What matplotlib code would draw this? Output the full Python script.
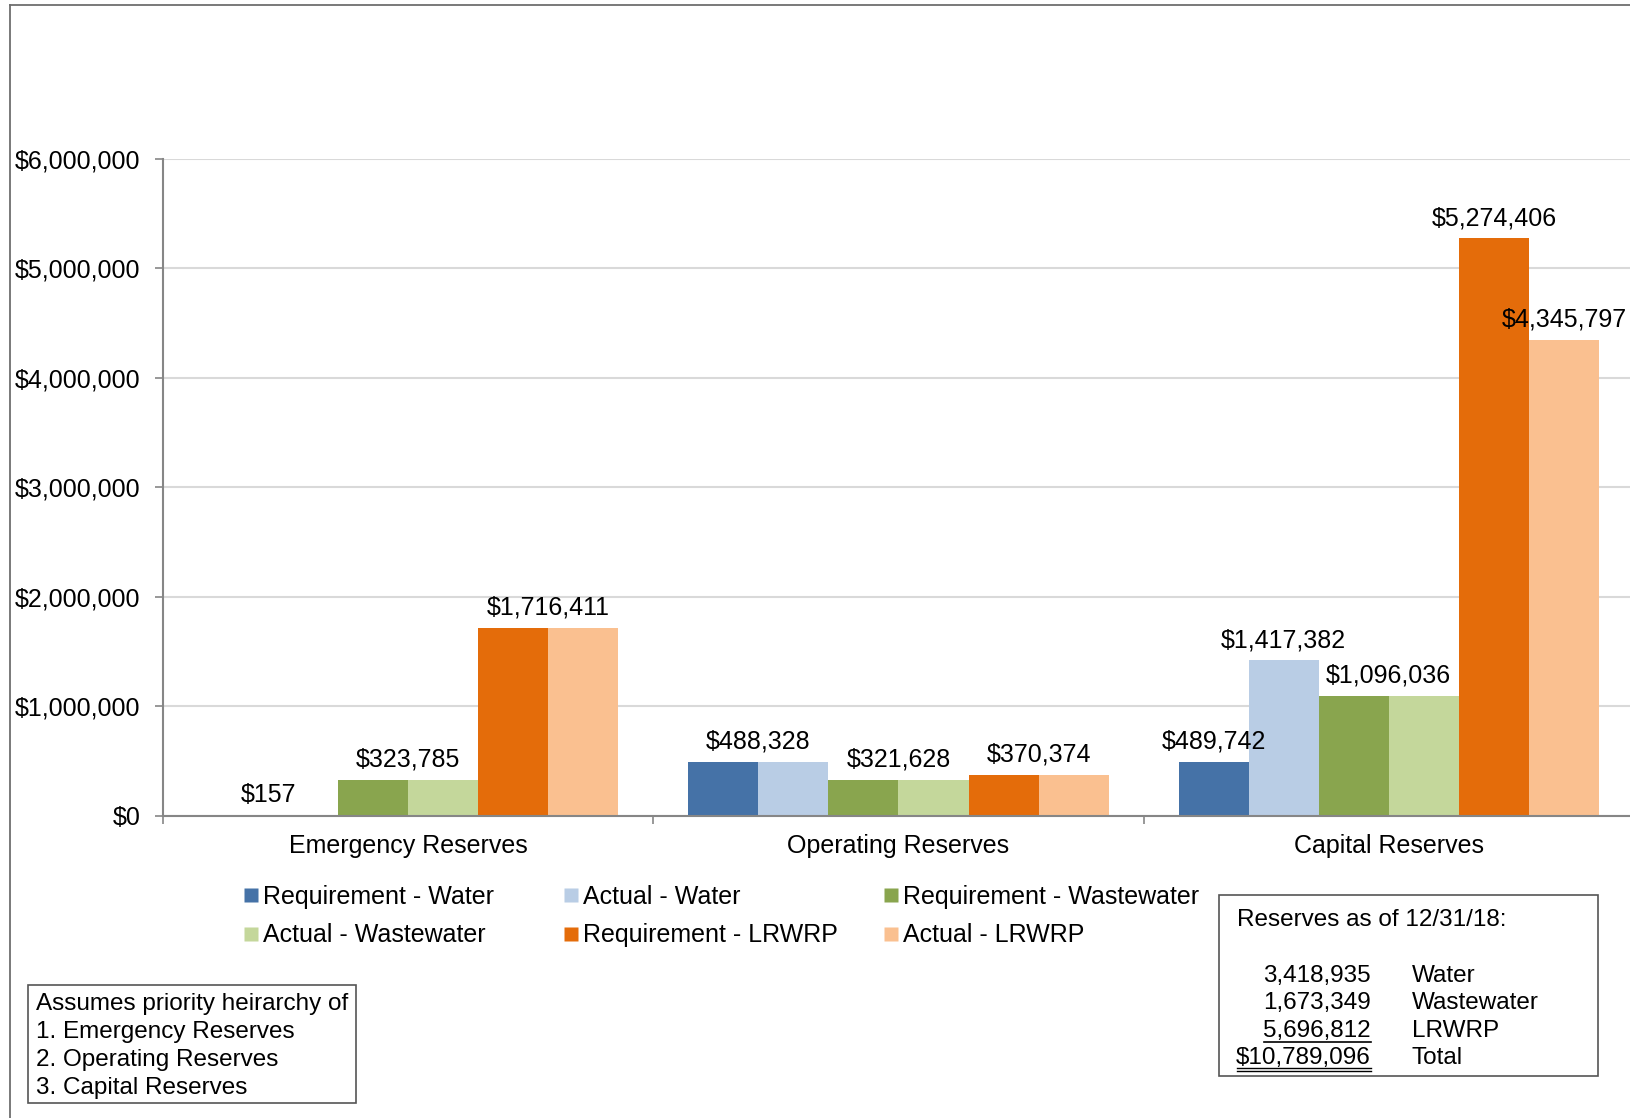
import matplotlib
matplotlib.use("Agg")
import matplotlib.pyplot as plt
from matplotlib.lines import Line2D
from matplotlib.patches import Rectangle

plt.rcParams['font.family'] = ['Liberation Sans', 'DejaVu Sans']

categories = ["Emergency Reserves", "Operating Reserves", "Capital Reserves"]
series_names = ["Requirement - Water", "Actual - Water", "Requirement - Wastewater",
                "Actual - Wastewater", "Requirement - LRWRP", "Actual - LRWRP"]
req_water = [157, 488328, 489742]
act_water = [157, 488328, 1417382]
req_ww = [323785, 321628, 1096036]
act_ww = [323785, 321628, 1096036]
req_lrwrp = [1716411, 370374, 5274406]
act_lrwrp = [1716411, 370374, 4345797]
colors = ["#4572A7", "#B9CDE5", "#89A54E", "#C4D79B", "#E46C0A", "#FAC090"]
yticks = [0, 1000000, 2000000, 3000000, 4000000, 5000000, 6000000]

summary_values = ["3,418,935", "1,673,349", "5,696,812", "$10,789,096"]
summary_labels = ["Water", "Wastewater", "LRWRP", "Total"]
note_lines = ["Assumes priority heirarchy of", "1. Emergency Reserves",
              "2. Operating Reserves", "3. Capital Reserves"]

W, H = 1631, 1118
fig = plt.figure(figsize=(W / 100, H / 100), dpi=100)
fig.patch.set_facecolor("white")

def fx(x):
    return x / W

def fy(y):
    return 1 - y / H

ax = fig.add_axes([fx(163), fy(815.5), fx(1634) - fx(163), fy(159) - fy(815.5)])
series = [req_water, act_water, req_ww, act_ww, req_lrwrp, act_lrwrp]
bw = 1 / 7
for j, (vals, c) in enumerate(zip(series, colors)):
    xs = [i + (j - 2.5) * bw for i in range(len(categories))]
    ax.bar(xs, vals, width=bw, color=c, edgecolor="none", zorder=3)

# data labels
for i in range(len(categories)):
    for p in range(3):
        r, a = series[2 * p][i], series[2 * p + 1][i]
        if r == a:
            pos = [(i + (2 * p + 0.5 - 2.5) * bw, r)]
        else:
            pos = [(i + (2 * p - 2.5) * bw, r), (i + (2 * p + 1 - 2.5) * bw, a)]
        for x, v in pos:
            ax.annotate(f"${v:,.0f}", (x, v), xytext=(0, 6), textcoords="offset points",
                        ha="center", va="bottom", fontsize=18, zorder=5)

ax.set_xlim(-0.5, 2.5)
ax.set_ylim(0, 6000000)
ax.set_yticks(yticks)
ax.set_yticklabels([f"${v:,.0f}" for v in yticks], fontsize=18)
ax.set_xticks(range(len(categories)))
ax.set_xticklabels(categories, fontsize=18)
ax.set_xticks([-0.5, 0.5, 1.5, 2.5], minor=True)
ax.tick_params(axis="x", which="major", length=0, pad=13)
ax.tick_params(axis="x", which="minor", length=6, width=1.2, color="#868686", direction="out")
ax.tick_params(axis="y", length=6, width=1.2, color="#868686", direction="out", pad=10)
ax.yaxis.grid(True, color="#D9D9D9", linewidth=1.5, zorder=0)
ax.set_axisbelow(True)
for s in ["top", "right"]:
    ax.spines[s].set_visible(False)
for s in ["left", "bottom"]:
    ax.spines[s].set_color("#868686")
    ax.spines[s].set_linewidth(1.5)
ax.spines["bottom"].set_zorder(4)

# outer chart border (left and top visible)
fig.add_artist(Line2D([fx(10), fx(10)], [fy(5), fy(1130)], color="#6E6E6E", lw=1.3))
fig.add_artist(Line2D([fx(10), fx(1640)], [fy(5), fy(5)], color="#6E6E6E", lw=1.3))

# legend as three columns
order_cols = [[0, 3], [1, 4], [2, 5]]
col_x = [244, 564, 884]
for cx, idxs in zip(col_x, order_cols):
    handles = [Line2D([], [], marker="s", linestyle="none", markersize=9.5,
                      markerfacecolor=colors[k], markeredgecolor="none") for k in idxs]
    fig.legend(handles, [series_names[k] for k in idxs], loc="upper left",
               bbox_to_anchor=(fx(cx), fy(885)), frameon=False, fontsize=18,
               handlelength=0.6, handletextpad=0.15, labelspacing=0.57, borderpad=0,
               borderaxespad=0)

# note box (bottom-left)
fig.add_artist(Rectangle((fx(28), fy(1103)), fx(356) - fx(28), fy(985) - fy(1103),
                         transform=fig.transFigure, fill=False, edgecolor="#555555", lw=1.2))
for k, line in enumerate(note_lines):
    fig.text(fx(36), fy(1004 + 28 * k), line, fontsize=17.5, ha="left", va="center")

# summary box (bottom-right)
fig.add_artist(Rectangle((fx(1219), fy(1076)), fx(1598) - fx(1219), fy(895) - fy(1076),
                         transform=fig.transFigure, fill=False, edgecolor="#555555", lw=1.2))
fig.text(fx(1237), fy(920), "Reserves as of 12/31/18:", fontsize=17.5, ha="left", va="center")
row_y = [976, 1003, 1031, 1058]
for v, lab, yy in zip(summary_values, summary_labels, row_y):
    fig.text(fx(1371), fy(yy), v, fontsize=17.5, ha="right", va="center")
    fig.text(fx(1412), fy(yy), lab, fontsize=17.5, ha="left", va="center")
fig.add_artist(Line2D([fx(1264), fx(1371)], [fy(1042), fy(1042)], color="black", lw=1.2))
fig.add_artist(Line2D([fx(1237), fx(1371)], [fy(1068), fy(1068)], color="black", lw=1.0))
fig.add_artist(Line2D([fx(1237), fx(1371)], [fy(1071), fy(1071)], color="black", lw=1.0))

fig.savefig("out.png", dpi=100)
